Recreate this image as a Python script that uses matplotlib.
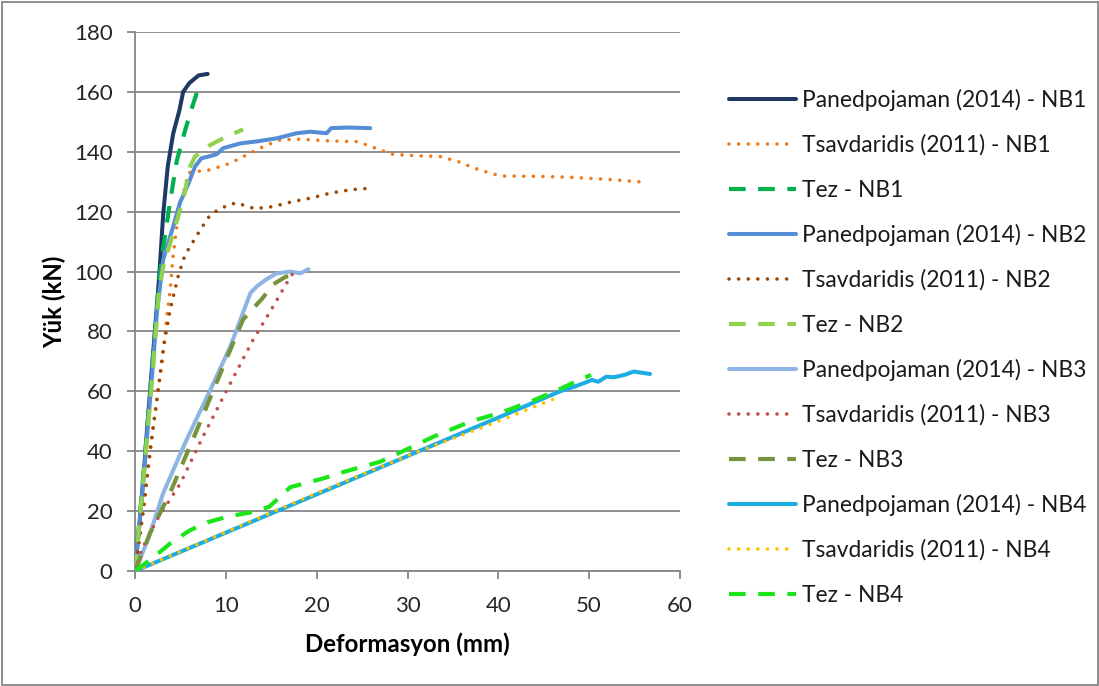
import matplotlib
matplotlib.use("Agg")
import matplotlib.pyplot as plt
from matplotlib.patches import Rectangle

plt.rcParams['font.family'] = ['Lato', 'DejaVu Sans']

# ---------------- data ----------------
pan_nb1_x = [0, 0.5, 1.0, 1.5, 2.0, 2.4, 2.7, 3.1, 3.6, 4.2, 4.9, 5.3, 6.0, 7.0, 8.0]
pan_nb1_y = [0, 16, 34, 54, 73, 88, 100, 119, 135, 146, 154, 160, 163, 165.5, 166]

tsa_nb1_x = [0, 1, 2, 3, 3.5, 3.85, 4.2, 4.6, 4.95, 5.9, 7.0, 8.3, 10.5, 12.3, 14.1, 16.0, 18.2,
             21.5, 24.4, 25.3, 27.3, 28.3, 30, 33.6, 35.6, 37.4, 39.4, 40.5, 44, 47.9, 52, 56.3]
tsa_nb1_y = [0, 22, 48, 70, 85, 93, 105.5, 115, 122, 133, 133.5, 134, 136.2, 139, 141.7, 144, 144.2,
             143.6, 143.4, 142.5, 140.3, 139.2, 138.8, 138.4, 136.7, 134.5, 132.6, 131.9, 131.8, 131.5, 130.8, 129.8]

tez_nb1_x = [0, 1.0, 2.0, 2.6, 3.1, 3.9, 4.6, 5.5, 6.3, 7.0]
tez_nb1_y = [0, 35, 72, 95, 108, 124, 137, 147, 155, 161.5]

pan_nb2_x = [0, 1.0, 2.0, 2.4, 3.1, 3.5, 4.2, 4.95, 5.9, 6.6, 7.3, 8.2, 9.0, 9.7, 11.6, 13.5,
             15.6, 17.8, 19.3, 21.1, 21.6, 23.5, 25.9]
pan_nb2_y = [0, 33, 70, 86, 104, 108, 115, 123, 129.5, 135, 137.8, 138.5, 139.2, 141.2, 142.8, 143.5,
             144.5, 146.2, 146.7, 146.2, 147.9, 148.1, 147.9]

tsa_nb2_x = [0, 0.9, 1.65, 2.4, 3.1, 3.85, 4.8, 5.5, 6.06, 7.2, 8.3, 9.4, 10.3, 11.2, 12.1, 13.2,
             15.2, 17.4, 19.3, 21.5, 23.7, 25.7]
tsa_nb2_y = [0, 20, 40, 57, 74, 87, 99, 105.5, 108.3, 114, 119, 121, 122.2, 123, 122, 121,
             121.7, 123.4, 124.5, 126.2, 127.3, 127.8]

tez_nb2_x = [0, 1, 2, 2.6, 3.1, 4.2, 5.3, 6.06, 6.6, 8.3, 9.7, 11.9]
tez_nb2_y = [0, 33, 68, 92, 101.6, 112.8, 124, 135, 138.4, 142.3, 144.5, 147.5]

pan_nb3_x = [0, 1.5, 3.1, 5.7, 8.3, 10.5, 12.7, 13.4, 14.5, 15.6, 17.1, 18.2, 19.1]
pan_nb3_y = [0, 11, 26, 44, 60.5, 75, 92.8, 95, 97.5, 99.4, 100, 99.4, 100.8]

tsa_nb3_x = [0, 0.7, 2.4, 5.0, 7.5, 10.5, 13.0, 15.2, 16.9, 17.4]
tsa_nb3_y = [0, 7, 17, 29.3, 45, 62.7, 77.2, 88.3, 97.2, 99.5]

tez_nb3_x = [0, 1.65, 3.85, 6.8, 9.4, 11.9, 14.1, 15.1, 16.6, 17.4]
tez_nb3_y = [0, 12.6, 26, 47, 66, 84, 91.3, 95.5, 98.3, 98.5]

pan_nb4_x = [0, 10, 20, 30, 40.2, 46.8, 48.4, 49.4, 50.3, 51.0, 51.9, 52.7, 53.9, 54.9, 56.7]
pan_nb4_y = [0, 12.8, 25.6, 38.4, 51.5, 60, 61.6, 62.7, 63.8, 63.2, 64.9, 64.7, 65.5, 66.6, 65.8]

tsa_nb4_x = [0, 10, 20, 30, 40, 46.3]
tsa_nb4_y = [0, 13, 26, 38.5, 50, 57.7]

tez_nb4_x = [0, 2, 4, 6, 8, 10.4, 13.2, 14.8, 17.1, 20.7, 23.1, 27, 30.2, 32.9, 36.9, 40.4,
             43.9, 46.8, 48.2, 50.2]
tez_nb4_y = [0, 4.5, 9.5, 13.5, 16.3, 18.3, 19.8, 21.5, 28, 30.9, 33.2, 36.5, 41, 44.9, 49.9, 53,
             57, 60.8, 62.8, 65.5]

labels = ["Panedpojaman (2014) - NB1", "Tsavdaridis (2011) - NB1", "Tez - NB1",
          "Panedpojaman (2014) - NB2", "Tsavdaridis (2011) - NB2", "Tez - NB2",
          "Panedpojaman (2014) - NB3", "Tsavdaridis (2011) - NB3", "Tez - NB3",
          "Panedpojaman (2014) - NB4", "Tsavdaridis (2011) - NB4", "Tez - NB4"]

x_ticks = [0, 10, 20, 30, 40, 50, 60]
y_ticks = [0, 20, 40, 60, 80, 100, 120, 140, 160, 180]

# ---------------- styles ----------------
colors = ['#1F3864', '#F07A1A', '#00B050',
          '#558ED5', '#984807', '#92D050',
          '#8EB4E3', '#C0504D', '#77933C',
          '#1CADE4', '#FFC000', '#1AE61A']
kinds = ['solid', 'dot', 'dash'] * 4

series = [(pan_nb1_x, pan_nb1_y), (tsa_nb1_x, tsa_nb1_y), (tez_nb1_x, tez_nb1_y),
          (pan_nb2_x, pan_nb2_y), (tsa_nb2_x, tsa_nb2_y), (tez_nb2_x, tez_nb2_y),
          (pan_nb3_x, pan_nb3_y), (tsa_nb3_x, tsa_nb3_y), (tez_nb3_x, tez_nb3_y),
          (pan_nb4_x, pan_nb4_y), (tsa_nb4_x, tsa_nb4_y), (tez_nb4_x, tez_nb4_y)]

fig = plt.figure(figsize=(10.99, 6.86), dpi=100)
fig.patch.set_facecolor('white')
ax = fig.add_axes([135 / 1099, 1 - 571 / 686, (680 - 135) / 1099, (571 - 32) / 686])

for i, ((xs, ys), c, k, lab) in enumerate(zip(series, colors, kinds, labels)):
    if k == 'solid':
        ax.plot(xs, ys, color=c, lw=2.9, solid_capstyle='round', solid_joinstyle='round',
                label=lab, zorder=3 + i)
    elif k == 'dot':
        ax.plot(xs, ys, color=c, lw=2.6, linestyle=(0, (0.01, 2.65)), dash_capstyle='round',
                label=lab, zorder=3 + i)
    else:
        ax.plot(xs, ys, color=c, lw=3.0, linestyle=(0, (4, 3)), dash_capstyle='butt',
                label=lab, zorder=3 + i)

ax.set_xlim(0, 60)
ax.set_ylim(0, 180)
ax.set_xticks(x_ticks)
ax.set_yticks(y_ticks)
ax.yaxis.grid(True, color='#868686', lw=1.3)
ax.set_axisbelow(True)
for s in ['top', 'right']:
    ax.spines[s].set_visible(False)
for s in ['left', 'bottom']:
    ax.spines[s].set_color('#868686')
    ax.spines[s].set_linewidth(1.3)
ax.tick_params(axis='both', direction='out', length=5.8, width=1.3, color='#868686',
               labelsize=16, labelcolor='#262626')
ax.tick_params(axis='y', pad=10.3)
ax.tick_params(axis='x', pad=12)

ax.set_xlabel('Deformasyon (mm)', fontsize=17.3, fontweight='bold', color='#000000')
ax.set_ylabel('Yük (kN)', fontsize=17.3, fontweight='bold', color='#000000')
ax.xaxis.set_label_coords(0.5, -0.113)
ax.yaxis.set_label_coords(-0.127, 0.5)

leg = fig.legend(loc='upper left', bbox_to_anchor=(729 / 1099, 1 - 89 / 686), frameon=False,
                 fontsize=16.4, handlelength=2.95, handletextpad=0.26, labelspacing=1.03,
                 borderaxespad=0, borderpad=0)
for t in leg.get_texts():
    t.set_color('#1a1a1a')

fig.add_artist(Rectangle((1.5 / 1099, 1.5 / 686), 1 - 3 / 1099, 1 - 3 / 686,
                         transform=fig.transFigure, fill=False, edgecolor='#868686', lw=1.3))

fig.savefig('out.png', dpi=100, facecolor='white')
